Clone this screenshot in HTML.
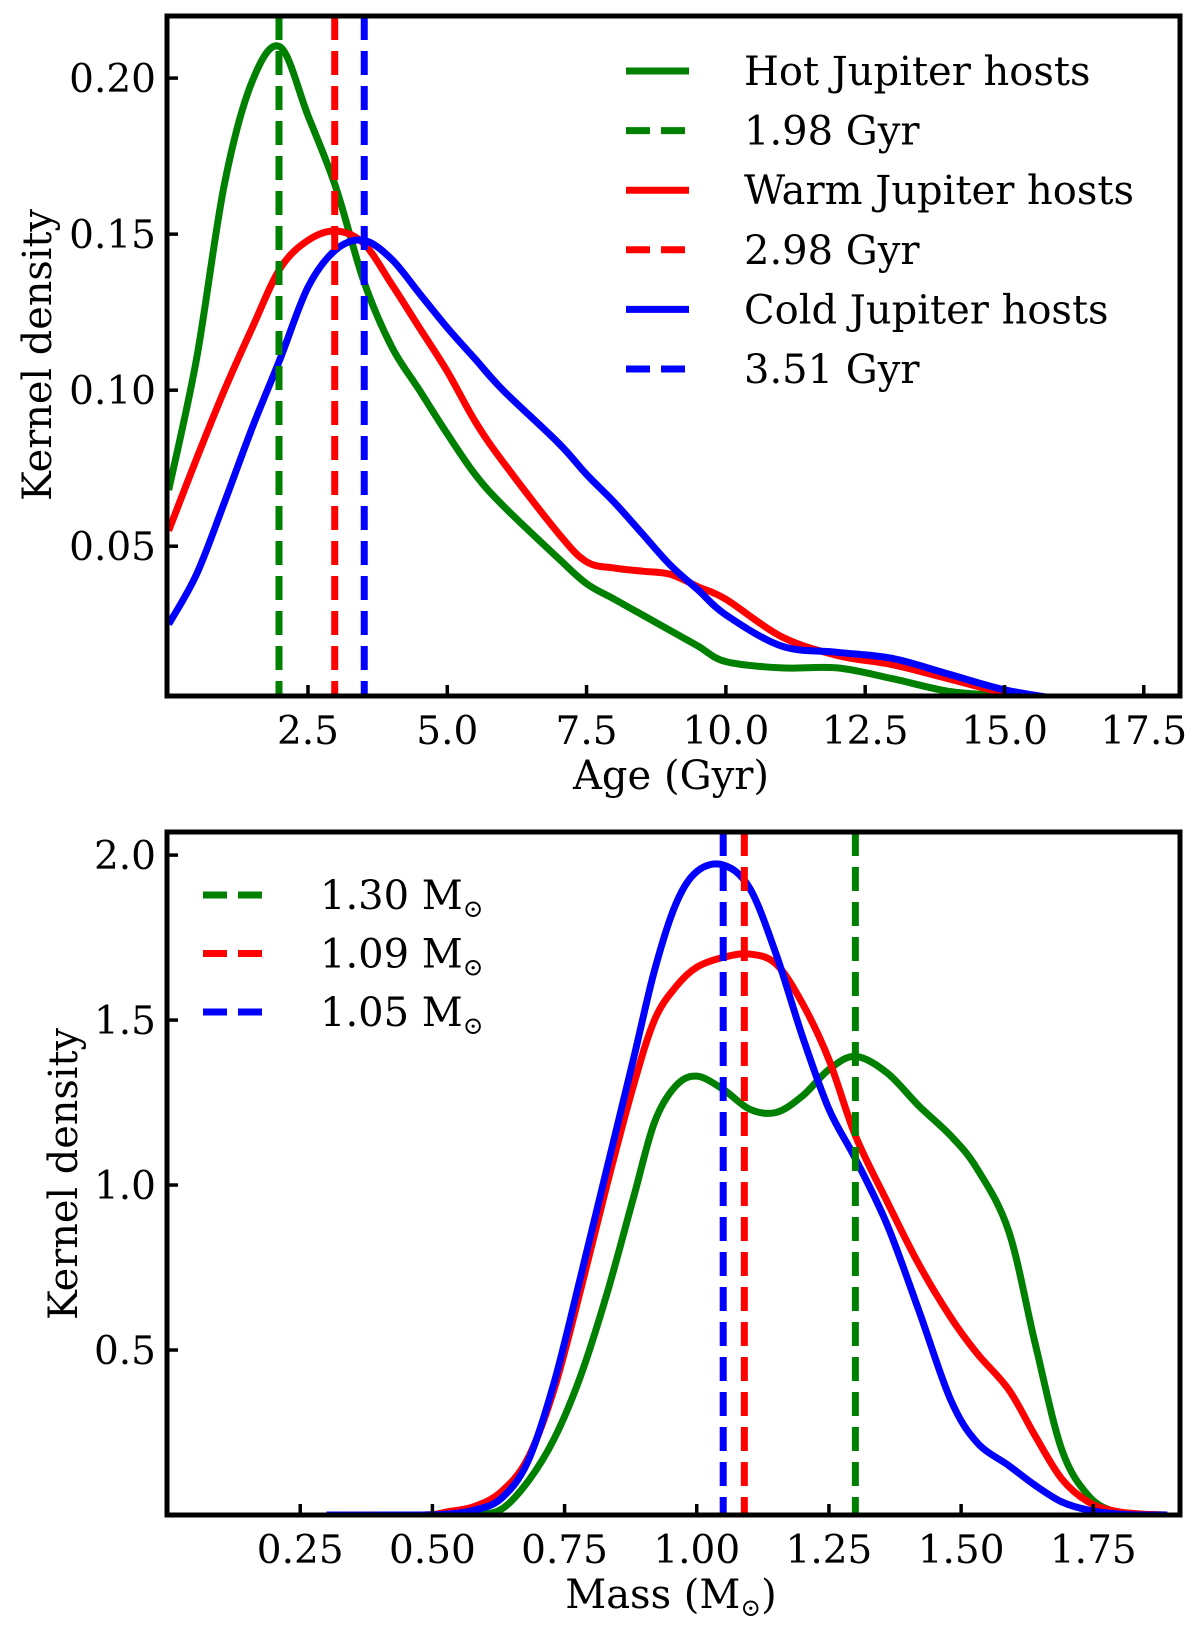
<!DOCTYPE html>
<html><head><meta charset="utf-8"><style>
html,body{margin:0;padding:0;background:#fff}
svg{display:block}
text{font-family:"DejaVu Serif","Liberation Serif",serif;fill:#000}
</style></head><body>
<svg id="c" width="1200" height="1634" viewBox="0 0 1200 1634"></svg>
<script>
// ---- Top panel data (Age) ----
const ageX=[0,0.5,1,1.5,2,2.5,3,3.5,4,4.5,5,5.5,6,7,7.5,8,8.5,9,9.5,10,11,12,13,14,15,16];
const ageHot=[0.068,0.11,0.166,0.199,0.21,0.188,0.165,0.135,0.114,0.1,0.086,0.073,0.063,0.046,0.038,0.033,0.028,0.023,0.018,0.013,0.011,0.011,0.0075,0.0035,0.002,0];
const ageWarm=[0.055,0.078,0.1,0.12,0.139,0.148,0.151,0.147,0.134,0.12,0.106,0.09,0.077,0.054,0.045,0.043,0.042,0.041,0.037,0.033,0.021,0.015,0.012,0.0075,0.003,0];
const ageCold=[0.025,0.041,0.064,0.088,0.11,0.133,0.145,0.148,0.142,0.131,0.12,0.11,0.1,0.083,0.073,0.064,0.054,0.044,0.036,0.028,0.018,0.016,0.014,0.009,0.004,0.001];
const ageMedians=[1.98,2.98,3.51];
const ageXTicks=[2.5,5.0,7.5,10.0,12.5,15.0,17.5];
const ageYTicks=[0.05,0.10,0.15,0.20];
// ---- Bottom panel data (Mass) ----
const massX=[0.3,0.48,0.53,0.58,0.63,0.68,0.73,0.78,0.83,0.88,0.92,0.96,1.0,1.05,1.1,1.15,1.2,1.25,1.3,1.36,1.42,1.48,1.53,1.59,1.64,1.69,1.74,1.79,1.84,1.89];
const massHot=[0,0,0,0.002,0.017,0.1,0.23,0.42,0.67,0.96,1.19,1.30,1.33,1.29,1.23,1.22,1.27,1.35,1.39,1.34,1.24,1.15,1.05,0.86,0.52,0.20,0.06,0.01,0.002,0];
const massWarm=[0,0,0.01,0.026,0.07,0.17,0.38,0.68,1.0,1.3,1.5,1.6,1.66,1.69,1.70,1.67,1.55,1.38,1.15,0.95,0.76,0.60,0.49,0.38,0.24,0.11,0.04,0.012,0.003,0];
const massCold=[0,0,0.003,0.015,0.05,0.16,0.4,0.72,1.05,1.38,1.65,1.85,1.95,1.97,1.90,1.70,1.45,1.23,1.08,0.88,0.62,0.35,0.22,0.15,0.09,0.04,0.015,0.004,0,0];
const massMedians=[1.30,1.09,1.05];
const massXTicks=[0.25,0.50,0.75,1.00,1.25,1.50,1.75];
const massYTicks=[0.5,1.0,1.5,2.0];

const NS="http://www.w3.org/2000/svg";
const svg=document.getElementById('c');
function el(tag,attrs,parent){const e=document.createElementNS(NS,tag);for(const k in attrs)e.setAttribute(k,attrs[k]);(parent||svg).appendChild(e);return e;}
function smooth(pts){let d="M"+pts[0][0]+","+pts[0][1];for(let i=0;i<pts.length-1;i++){const p0=pts[i-1]||pts[i],p1=pts[i],p2=pts[i+1],p3=pts[i+2]||p2;
d+=" C"+(p1[0]+(p2[0]-p0[0])/6)+","+(p1[1]+(p2[1]-p0[1])/6)+" "+(p2[0]-(p3[0]-p1[0])/6)+","+(p2[1]-(p3[1]-p1[1])/6)+" "+p2[0]+","+p2[1];}return d;}

function panel(cfg){
  const g=el('g',{});
  
  
  const L=167,R=1180,T=cfg.top,B=cfg.bottom;
  const sx=v=>L+(v-cfg.xmin)/(cfg.xmax-cfg.xmin)*(R-L);
  const sy=v=>B-(v-cfg.ymin)/(cfg.ymax-cfg.ymin)*(B-T);
  const clip=el('clipPath',{id:cfg.name+'-clip'},g);el('rect',{x:L,y:T,width:R-L,height:B-T},clip);
  const plot=el('g',{'clip-path':'url(#'+cfg.name+'-clip)'},g);
  const colors=['#008000','#ff0000','#0000ff'];
  cfg.series.forEach((s,i)=>{
    const p=el('path',{d:smooth(cfg.x.map((x,j)=>[sx(x),sy(s[j])])),fill:'none',stroke:colors[i],'stroke-width':7,'stroke-linejoin':'round'},plot);
    
    
  });
  cfg.medians.forEach((m,i)=>{
    const l=el('line',{x1:sx(m),x2:sx(m),y1:T,y2:B,stroke:cfg.medColors[i],'stroke-width':7,'stroke-dasharray':'24,11'},plot);
    
    
  });
  el('rect',{x:L,y:T,width:R-L,height:B-T,fill:'none',stroke:'#000','stroke-width':5},g);
  cfg.xticks.forEach((t,i)=>{
    el('line',{x1:sx(t),x2:sx(t),y1:B,y2:B-11,stroke:'#000','stroke-width':3.5},g);
    const tx=el('text',{x:sx(t),y:B+cfg.xlabOff,'text-anchor':'middle','font-size':39},g);tx.textContent=t.toFixed(cfg.xdec);
    
    
  });
  cfg.yticks.forEach(t=>{
    el('line',{x1:L,x2:L+11,y1:sy(t),y2:sy(t),stroke:'#000','stroke-width':3.5},g);
    const tx=el('text',{x:156,y:sy(t)+14,'text-anchor':'end','font-size':39},g);tx.textContent=t.toFixed(cfg.ydec);
    
    
  });
}
panel({name:'age-panel',top:16,bottom:696,xmin:-0.03,xmax:18.15,ymin:0.002,ymax:0.2199,x:ageX,series:[ageHot,ageWarm,ageCold],seriesNames:['hot','warm','cold'],medians:ageMedians,medColors:['#008000','#ff0000','#0000ff'],xticks:ageXTicks,yticks:ageYTicks,xdec:1,ydec:2,xlabOff:48});
panel({name:'mass-panel',top:832,bottom:1515,xmin:-0.002,xmax:1.914,ymin:0,ymax:2.07,x:massX,series:[massHot,massWarm,massCold],seriesNames:['hot','warm','cold'],medians:massMedians,medColors:['#008000','#ff0000','#0000ff'],xticks:massXTicks,yticks:massYTicks,xdec:2,ydec:1,xlabOff:48});
</script>
<script>
(function(){
const NS="http://www.w3.org/2000/svg";const svg=document.getElementById('c');
function t(x,y,s,size,name,extra){const e=document.createElementNS(NS,'text');e.setAttribute('x',x);e.setAttribute('y',y);e.setAttribute('font-size',size);for(const k in (extra||{}))e.setAttribute(k,extra[k]);e.textContent=s;


svg.appendChild(e);return e;}
function msun(e){const s=document.createElementNS(NS,'tspan');s.setAttribute('font-size','0.62em');s.setAttribute('dy','8');s.textContent='\u2299';e.appendChild(s);return s;}
function ln(x1,x2,y,c,dash,name){const e=document.createElementNS(NS,'line');e.setAttribute('x1',x1);e.setAttribute('x2',x2);e.setAttribute('y1',y);e.setAttribute('y2',y);e.setAttribute('stroke',c);e.setAttribute('stroke-width',7);if(dash)e.setAttribute('stroke-dasharray','24,11');


svg.appendChild(e);}
t(671,789,'Age (Gyr)',40,'x-axis-title-age',{'text-anchor':'middle','textLength':196,'lengthAdjust':'spacingAndGlyphs'});
const m=t(671,1608,'Mass (M',40,'x-axis-title-mass',{'text-anchor':'middle'});
msun(m);const cl=document.createElementNS(NS,'tspan');cl.setAttribute('dy','-8');cl.textContent=')';m.appendChild(cl);
t(0,0,'Kernel density',40,'y-axis-title-age',{'text-anchor':'middle',transform:'translate(51,355) rotate(-90)','textLength':292,'lengthAdjust':'spacingAndGlyphs'});
t(0,0,'Kernel density',40,'y-axis-title-mass',{'text-anchor':'middle',transform:'translate(77,1174) rotate(-90)','textLength':292,'lengthAdjust':'spacingAndGlyphs'});
const top=[['Hot Jupiter hosts','#008000',0],['1.98 Gyr','#008000',1],['Warm Jupiter hosts','#ff0000',0],['2.98 Gyr','#ff0000',1],['Cold Jupiter hosts','#0000ff',0],['3.51 Gyr','#0000ff',1]];
top.forEach((r,i)=>{const y=71+i*59.6;ln(626,689,y,r[1],r[2],'legend-line');t(744,y+14,r[0],40,'legend-entry');});
const bot=[['1.30 M','#008000'],['1.09 M','#ff0000'],['1.05 M','#0000ff']];
bot.forEach((r,i)=>{const y=895+i*58.5;ln(203,266,y,r[1],1,'legend-line');const e=t(320,y+14,r[0],40,'legend-entry');msun(e);});
})();
</script>
</body></html>
